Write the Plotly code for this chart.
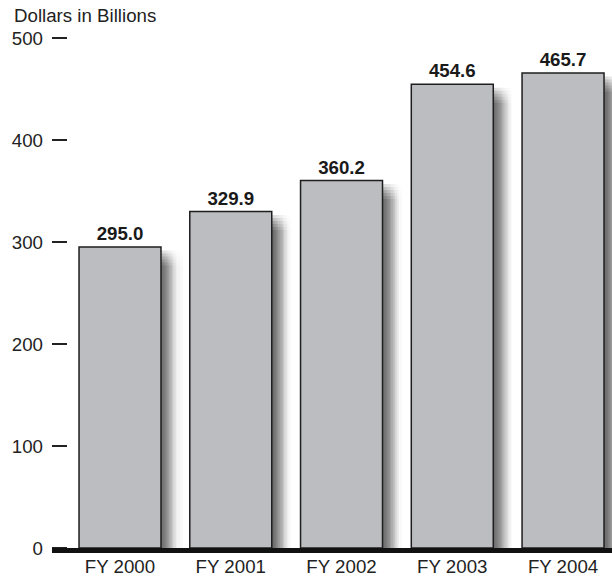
import math
import plotly.graph_objects as go

# Federal outlays by fiscal year (dollars in billions)
years = ["FY 2000", "FY 2001", "FY 2002", "FY 2003", "FY 2004"]
outlays = [295.0, 329.9, 360.2, 454.6, 465.7]
y_ticks = [0, 100, 200, 300, 400, 500]

# Canvas and plot-area geometry
W, H = 612, 577
M_L, M_R, M_T, M_B = 52, 0, 28, 24
X_RANGE = [-0.614, 4.442]
Y_RANGE = [-4.9, 509.8]
plot_w = W - M_L - M_R
plot_h = H - M_T - M_B
ux = (X_RANGE[1] - X_RANGE[0]) / plot_w   # x data units per pixel
uy = (Y_RANGE[1] - Y_RANGE[0]) / plot_h   # y data units per pixel

BAR_W = 0.74
FONT = "Liberation Sans, Arial, Helvetica, sans-serif"
FS = 18.7
xs = list(range(len(years)))

fig = go.Figure()

# Soft drop shadow: thin fading columns right of each bar, with a blurred top edge
SH_DX, SH_DY, SH_SIGMA = 9.0, 11.0, 6.0
N_COLS, N_LAYERS = 28, 6
SH_MAX = 0.72


def phi(z):
    return 0.5 * (1.0 + math.erf(z / math.sqrt(2.0)))


for c in range(N_COLS):
    a = SH_MAX * phi((SH_DX - (c + 0.5)) / SH_SIGMA)
    if a < 0.01:
        continue
    a_layer = 1.0 - (1.0 - a) ** (1.0 / N_LAYERS)
    for j in range(N_LAYERS):
        drop = SH_DY + (j - (N_LAYERS - 1) / 2) * (2.5 * SH_SIGMA / (N_LAYERS - 1))
        fig.add_trace(go.Bar(
            x=xs,
            y=[v - drop * uy for v in outlays],
            width=1.08 * ux,
            offset=BAR_W / 2 + c * ux,
            marker=dict(color=f"rgba(45,45,45,{a_layer:.4f})", line=dict(width=0)),
            hoverinfo="skip",
            showlegend=False,
        ))

# Main bars with value labels
fig.add_trace(go.Bar(
    x=xs,
    y=outlays,
    width=BAR_W,
    marker=dict(color="#BCBDC1", line=dict(color="#1e1e1e", width=1.5)),
    text=[f"{v:.1f}" for v in outlays],
    textposition="outside",
    textfont=dict(family=FONT, size=FS, color="#1a1a1a", weight=700),
    cliponaxis=False,
    showlegend=False,
))

# Heavy baseline at zero
fig.add_shape(
    type="rect", xref="paper", x0=0, x1=1,
    yref="y", ysizemode="pixel", yanchor=0, y0=0, y1=-5,
    fillcolor="#111111", line=dict(width=0), layer="above",
)

fig.add_annotation(
    text="Dollars in Billions",
    xref="paper", x=(12 - M_L) / plot_w, xanchor="left",
    yref="paper", y=1 + (M_T - 16) / plot_h, yanchor="middle",
    showarrow=False,
    font=dict(family=FONT, size=FS, color="#222222"),
)

fig.update_layout(
    width=W, height=H,
    margin=dict(l=M_L, r=M_R, t=M_T, b=M_B, autoexpand=False),
    paper_bgcolor="white", plot_bgcolor="white",
    barmode="overlay",
    font=dict(family=FONT, size=FS, color="#222222"),
    xaxis=dict(
        range=X_RANGE, tickvals=xs, ticktext=years,
        showgrid=False, zeroline=False, showline=False, ticks="",
        tickfont=dict(family=FONT, size=FS, color="#222222"),
        fixedrange=True,
    ),
    yaxis=dict(
        range=Y_RANGE, tickvals=y_ticks,
        showgrid=False, zeroline=False, showline=False,
        ticks="inside", ticklen=15, tickwidth=1.5, tickcolor="#222222",
        ticklabelstandoff=8,
        tickfont=dict(family=FONT, size=FS, color="#222222"),
        fixedrange=True,
    ),
)

fig.write_html("out.html")
